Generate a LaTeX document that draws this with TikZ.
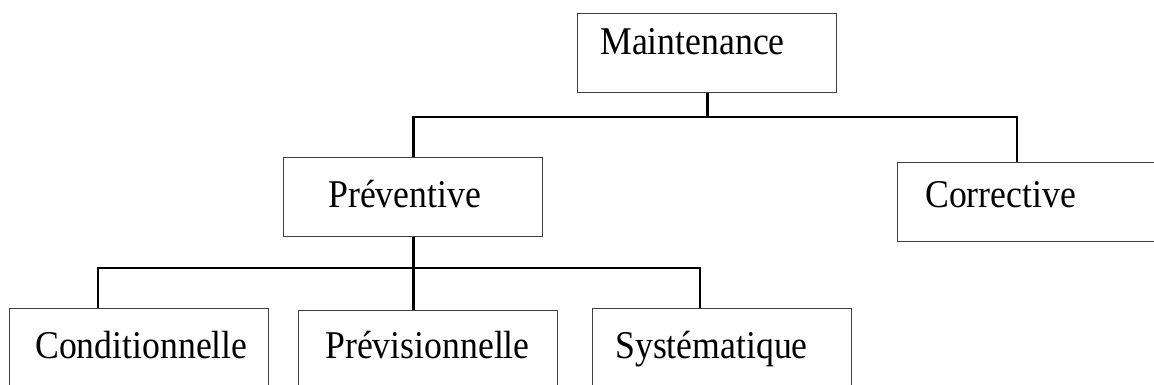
\documentclass[tikz,border=0pt]{standalone}
\usepackage{graphicx}
\usepackage{fontspec}
\setmainfont{Liberation Serif}
\usetikzlibrary{calc,positioning}
\definecolor{boxgray}{HTML}{404040}
\newcommand{\boxtext}[1]{\scalebox{1}[1.1]{#1}}

\begin{document}
\begin{tikzpicture}[x=0.75pt,y=-0.75pt,
    box/.style={draw=boxgray, line width=1.1pt, rectangle, inner sep=0pt,
        minimum width=194.25pt, minimum height=59.25pt, anchor=north west},
    lbl/.style={inner sep=0pt, anchor=base west, font=\fontsize{26.8}{32}\selectfont},
    conn/.style={line width=2.2pt, black}]
        \useasboundingbox (0,0) rectangle (1154,385);
        % boxes
        \node[box] (mnt) at (577,13) {};
        \node[box] (prev) at (283,157) {};
        \node[box] (corr) at (897,162) {};
        \node[box, minimum height=60pt] (cond) at (9,308) {};
        \node[box, minimum height=60pt] (previ) at (298,310) {};
        \node[box, minimum height=60pt] (syst) at (592,308) {};
        % texts
        \node[lbl] (tmnt) at ($(mnt.north west)+(23,42)$) {\boxtext{Maintenance}};
        \node[lbl] (tprev) at ($(prev.north west)+(45,50)$) {\boxtext{Préventive}};
        \node[lbl] (tcorr) at ($(corr.north west)+(28,45)$) {\boxtext{Corrective}};
        \node[lbl] (tcond) at ($(cond.north west)+(26,50)$) {\boxtext{Conditionnelle}};
        \node[lbl] (tprevi) at ($(previ.north west)+(27,48)$) {\boxtext{Prévisionnelle}};
        \node[lbl] (tsyst) at ($(syst.north west)+(23,50)$) {\boxtext{Systématique}};
        % connectors
        \draw[conn] (mnt.south) |- ($(corr.north west)+(120,-45)$) -- ($(corr.north west)+(120,0)$);
        \draw[conn] (prev.north) |- ($(corr.north west)+(120,-45)$);
        \draw[conn] (prev.south) |- ($(cond.north west)+(89,-40)$) -- ($(cond.north west)+(89,0)$);
        \draw[conn] (prev.south) |- ($(syst.north west)+(108,-40)$) -- ($(syst.north west)+(108,0)$);
        \draw[conn] (prev.south) -- (prev.south |- previ.north);
\end{tikzpicture}
\end{document}
